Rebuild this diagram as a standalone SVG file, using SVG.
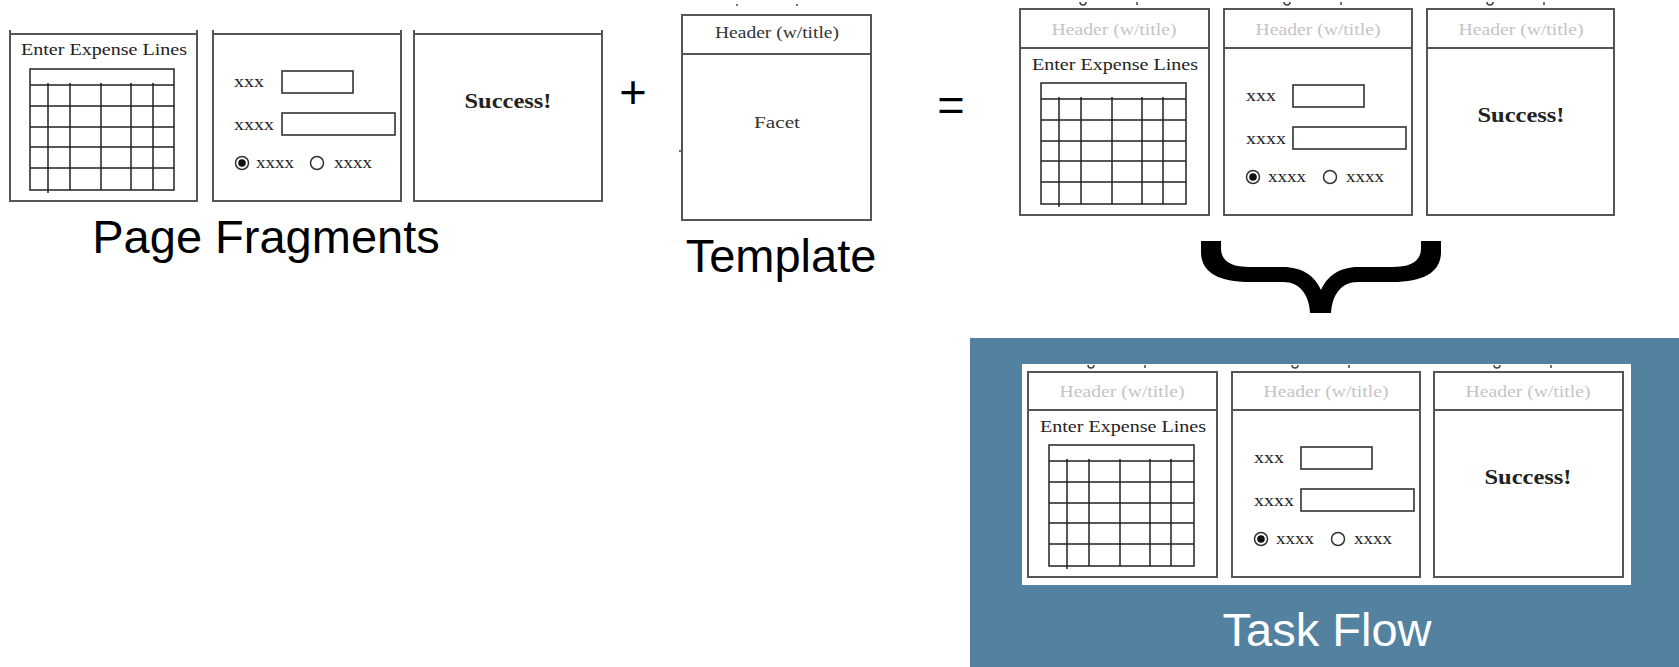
<svg xmlns="http://www.w3.org/2000/svg" width="1679" height="667" viewBox="0 0 1679 667">
<style>
.fr{fill:#fff;stroke:#555;stroke-width:2}
.ln{stroke:#555;stroke-width:2;fill:none}
.tb{fill:none;stroke:#222;stroke-width:1.5}
.box{fill:#fff;stroke:#333;stroke-width:1.6}
.rb{fill:#fff;stroke:#333;stroke-width:1.5}
.ser{font-family:"Liberation Serif","Times New Roman",serif;fill:#222}
.t{font-size:17px}
.x{font-size:16px}
.suc{font-size:21px;font-weight:bold}
.hd{font-size:16px;fill:#c4c4c4}
.hd2{font-size:16px;fill:#333}
.big{font-family:"Liberation Sans",Arial,sans-serif;font-size:47px;fill:#000}
.tick{stroke:#444;stroke-width:1.5;fill:none}
</style>
<rect width="1679" height="667" fill="#fff"/>

<!-- Page fragments -->
<g id="frag-expense" transform="translate(10,34)">
  <path class="ln" d="M0 -4V167H187V-4"/>
  <rect class="fr" x="0" y="0" width="187" height="167"/>
  <text class="ser t" x="94" y="21" text-anchor="middle" textLength="166" lengthAdjust="spacingAndGlyphs">Enter Expense Lines</text>
  <rect class="tb" x="20" y="35" width="144" height="121"/>
  <path class="tb" d="M20 51H164M20 72H164M20 93H164M20 113H164M20 134H164M38 49V159M60 49V156M91 49V156M121 49V156M143 49V156"/>
</g>
<g id="frag-form" transform="translate(213,34)">
  <path class="ln" d="M0 -4V167H188V-4"/>
  <rect class="fr" x="0" y="0" width="188" height="167"/>
  <text class="ser x" x="21" y="53" textLength="30" lengthAdjust="spacingAndGlyphs">xxx</text>
  <rect class="box" x="69" y="37" width="71" height="22"/>
  <text class="ser x" x="21" y="96" textLength="40" lengthAdjust="spacingAndGlyphs">xxxx</text>
  <rect class="box" x="69" y="79" width="113" height="22"/>
  <circle class="rb" cx="29" cy="129" r="6.5"/>
  <circle cx="29" cy="129" r="3.8" fill="#111"/>
  <text class="ser x" x="43" y="134" textLength="38" lengthAdjust="spacingAndGlyphs">xxxx</text>
  <circle class="rb" cx="104" cy="129" r="6.5"/>
  <text class="ser x" x="121" y="134" textLength="38" lengthAdjust="spacingAndGlyphs">xxxx</text>
</g>
<g id="frag-success" transform="translate(414,34)">
  <path class="ln" d="M0 -4V167H188V-4"/>
  <rect class="fr" x="0" y="0" width="188" height="167"/>
  <text class="ser suc" x="94" y="74" text-anchor="middle" textLength="87" lengthAdjust="spacingAndGlyphs">Success!</text>
</g>
<text id="label-fragments" class="big" x="266" y="253" text-anchor="middle">Page Fragments</text>

<text id="plus" class="big" x="633" y="108" text-anchor="middle">+</text>

<!-- Template -->
<g id="template" transform="translate(682,15)">
  <path class="tick" d="M55 -11v2M115 -11v2M-3 136h3"/>
  <rect class="fr" x="0" y="0" width="189" height="205"/>
  <line class="ln" x1="0" y1="39" x2="189" y2="39"/>
  <text class="ser hd2" x="95" y="23" text-anchor="middle" textLength="124" lengthAdjust="spacingAndGlyphs">Header (w/title)</text>
  <text class="ser hd2" x="95" y="113" text-anchor="middle" textLength="46" lengthAdjust="spacingAndGlyphs">Facet</text>
</g>
<text id="label-template" class="big" x="781" y="272" text-anchor="middle">Template</text>

<text id="equals" class="big" x="951" y="121" text-anchor="middle">=</text>

<!-- Composed pages -->
<g id="page-expense" transform="translate(1020,9)">
  <path class="tick" d="M60 -7a3 3 0 0 0 6 0M117 -7v3"/>
  <rect class="fr" x="0" y="0" width="189" height="206"/>
  <line class="ln" x1="0" y1="39" x2="189" y2="39"/>
  <text class="ser hd" x="94" y="26" text-anchor="middle" textLength="125" lengthAdjust="spacingAndGlyphs">Header (w/title)</text>
  <g transform="translate(0,39)">
    <text class="ser t" x="95" y="22" text-anchor="middle" textLength="166" lengthAdjust="spacingAndGlyphs">Enter Expense Lines</text>
    <rect class="tb" x="21" y="35" width="145" height="121"/>
    <path class="tb" d="M21 51H166M21 72H166M21 93H166M21 113H166M21 134H166M39 49V159M61 49V156M92 49V156M122 49V156M143 49V156"/>
  </g>
</g>
<g id="page-form" transform="translate(1224,9)">
  <path class="tick" d="M60 -7a3 3 0 0 0 6 0M117 -7v3"/>
  <rect class="fr" x="0" y="0" width="188" height="206"/>
  <line class="ln" x1="0" y1="39" x2="188" y2="39"/>
  <text class="ser hd" x="94" y="26" text-anchor="middle" textLength="125" lengthAdjust="spacingAndGlyphs">Header (w/title)</text>
  <g transform="translate(0,39)">
    <text class="ser x" x="22" y="53" textLength="30" lengthAdjust="spacingAndGlyphs">xxx</text>
    <rect class="box" x="69" y="37" width="71" height="22"/>
    <text class="ser x" x="22" y="96" textLength="40" lengthAdjust="spacingAndGlyphs">xxxx</text>
    <rect class="box" x="69" y="79" width="113" height="22"/>
    <circle class="rb" cx="29" cy="129" r="6.5"/>
    <circle cx="29" cy="129" r="3.8" fill="#111"/>
    <text class="ser x" x="44" y="134" textLength="38" lengthAdjust="spacingAndGlyphs">xxxx</text>
    <circle class="rb" cx="106" cy="129" r="6.5"/>
    <text class="ser x" x="122" y="134" textLength="38" lengthAdjust="spacingAndGlyphs">xxxx</text>
  </g>
</g>
<g id="page-success" transform="translate(1427,9)">
  <path class="tick" d="M60 -7a3 3 0 0 0 6 0M117 -7v3"/>
  <rect class="fr" x="0" y="0" width="187" height="206"/>
  <line class="ln" x1="0" y1="39" x2="187" y2="39"/>
  <text class="ser hd" x="94" y="26" text-anchor="middle" textLength="125" lengthAdjust="spacingAndGlyphs">Header (w/title)</text>
  <text class="ser suc" x="94" y="113" text-anchor="middle" textLength="87" lengthAdjust="spacingAndGlyphs">Success!</text>
</g>

<!-- Brace -->
<path id="brace" fill="#000" d="M1201 241V252C1201 272 1218 282 1250 282H1283C1300 282 1309 295 1310 313H1331C1332 295 1341 282 1358 282H1392C1424 282 1441 272 1441 252V241H1421V248C1421 262 1410 267 1392 267H1358C1340 267 1327 276 1321 290C1315 276 1302 267 1283 267H1250C1232 267 1221 262 1221 248V241Z"/>

<!-- Task flow panel -->
<g id="taskflow">
  <rect x="970" y="338" width="709" height="329" fill="#5381a0"/>
  <rect x="1022" y="364" width="609" height="221" fill="#fff"/>
  <g id="tf-expense" transform="translate(1028,372)">
    <path class="tick" d="M60 -7a3 3 0 0 0 6 0M117 -7v3"/>
    <rect class="fr" x="0" y="0" width="189" height="205"/>
    <line class="ln" x1="0" y1="38" x2="189" y2="38"/>
    <text class="ser hd" x="94" y="25" text-anchor="middle" textLength="125" lengthAdjust="spacingAndGlyphs">Header (w/title)</text>
    <g transform="translate(0,38)">
      <text class="ser t" x="95" y="22" text-anchor="middle" textLength="166" lengthAdjust="spacingAndGlyphs">Enter Expense Lines</text>
      <rect class="tb" x="21" y="35" width="145" height="121"/>
      <path class="tb" d="M21 51H166M21 72H166M21 93H166M21 113H166M21 134H166M39 49V159M61 49V156M92 49V156M122 49V156M143 49V156"/>
    </g>
  </g>
  <g id="tf-form" transform="translate(1232,372)">
    <path class="tick" d="M60 -7a3 3 0 0 0 6 0M117 -7v3"/>
    <rect class="fr" x="0" y="0" width="188" height="205"/>
    <line class="ln" x1="0" y1="38" x2="188" y2="38"/>
    <text class="ser hd" x="94" y="25" text-anchor="middle" textLength="125" lengthAdjust="spacingAndGlyphs">Header (w/title)</text>
    <g transform="translate(0,38)">
      <text class="ser x" x="22" y="53" textLength="30" lengthAdjust="spacingAndGlyphs">xxx</text>
      <rect class="box" x="69" y="37" width="71" height="22"/>
      <text class="ser x" x="22" y="96" textLength="40" lengthAdjust="spacingAndGlyphs">xxxx</text>
      <rect class="box" x="69" y="79" width="113" height="22"/>
      <circle class="rb" cx="29" cy="129" r="6.5"/>
      <circle cx="29" cy="129" r="3.8" fill="#111"/>
      <text class="ser x" x="44" y="134" textLength="38" lengthAdjust="spacingAndGlyphs">xxxx</text>
      <circle class="rb" cx="106" cy="129" r="6.5"/>
      <text class="ser x" x="122" y="134" textLength="38" lengthAdjust="spacingAndGlyphs">xxxx</text>
    </g>
  </g>
  <g id="tf-success" transform="translate(1434,372)">
    <path class="tick" d="M60 -7a3 3 0 0 0 6 0M117 -7v3"/>
    <rect class="fr" x="0" y="0" width="189" height="205"/>
    <line class="ln" x1="0" y1="38" x2="189" y2="38"/>
    <text class="ser hd" x="94" y="25" text-anchor="middle" textLength="125" lengthAdjust="spacingAndGlyphs">Header (w/title)</text>
    <text class="ser suc" x="94" y="112" text-anchor="middle" textLength="87" lengthAdjust="spacingAndGlyphs">Success!</text>
  </g>
  <text id="label-taskflow" class="big" x="1327" y="646" text-anchor="middle" style="fill:#fff">Task Flow</text>
</g>
</svg>
